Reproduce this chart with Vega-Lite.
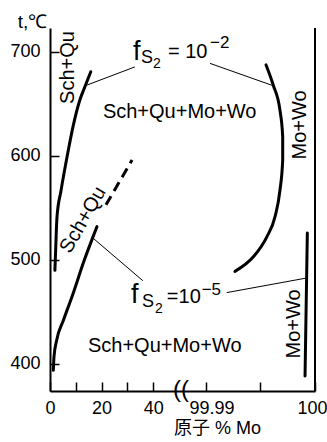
{
  "$schema": "https://vega.github.io/schema/vega-lite/v6.json",
  "width": 265,
  "height": 363,
  "autosize": {"type": "none"},
  "padding": {"left": 50, "top": 28, "right": 12, "bottom": 51},
  "background": "white",
  "config": {
    "view": {"stroke": null},
    "font": "Liberation Sans",
    "text": {"font": "Liberation Sans", "color": "black"},
    "axis": {"grid": false, "domainColor": "black", "tickColor": "black", "labelColor": "black", "titleColor": "black", "labelFont": "Liberation Sans", "titleFont": "Liberation Sans"}
  },
  "datasets": {
    "curves": [
      {"curve": "a", "i": 0, "x": 15.8, "t": 681},
      {"curve": "a", "i": 1, "x": 13.6, "t": 667},
      {"curve": "a", "i": 2, "x": 11.6, "t": 654},
      {"curve": "a", "i": 3, "x": 8.9, "t": 628},
      {"curve": "a", "i": 4, "x": 6.6, "t": 599},
      {"curve": "a", "i": 5, "x": 4.3, "t": 567},
      {"curve": "a", "i": 6, "x": 2.7, "t": 541},
      {"curve": "a", "i": 7, "x": 2.2, "t": 510},
      {"curve": "a", "i": 8, "x": 1.9, "t": 490},
      {"curve": "b", "i": 0, "x": 99.99553, "t": 687.5},
      {"curve": "b", "i": 1, "x": 99.99619, "t": 668},
      {"curve": "b", "i": 2, "x": 99.9968, "t": 644},
      {"curve": "b", "i": 3, "x": 99.99705, "t": 618.6},
      {"curve": "b", "i": 4, "x": 99.99705, "t": 596},
      {"curve": "b", "i": 5, "x": 99.9968, "t": 567},
      {"curve": "b", "i": 6, "x": 99.99635, "t": 541.6},
      {"curve": "b", "i": 7, "x": 99.99559, "t": 522},
      {"curve": "b", "i": 8, "x": 99.99437, "t": 503},
      {"curve": "b", "i": 9, "x": 99.99269, "t": 489},
      {"curve": "c", "i": 0, "x": 18.2, "t": 532},
      {"curve": "c", "i": 1, "x": 12.9, "t": 497},
      {"curve": "c", "i": 2, "x": 9.0, "t": 468},
      {"curve": "c", "i": 3, "x": 5.2, "t": 442},
      {"curve": "c", "i": 4, "x": 2.6, "t": 423},
      {"curve": "c", "i": 5, "x": 1.55, "t": 407},
      {"curve": "c", "i": 6, "x": 1.3, "t": 394},
      {"curve": "d", "i": 0, "x": 99.9993, "t": 526},
      {"curve": "d", "i": 1, "x": 99.99909, "t": 388.5}
    ],
    "dashed": [
      {"i": 0, "x": 21.7, "t": 553},
      {"i": 1, "x": 31.8, "t": 596}
    ],
    "leaders": [
      {"leader": "1", "i": 0, "x": 32.9, "t": 685.6},
      {"leader": "1", "i": 1, "x": 14.2, "t": 668},
      {"leader": "2", "i": 0, "x": 99.99041, "t": 689},
      {"leader": "2", "i": 1, "x": 99.99605, "t": 668},
      {"leader": "3", "i": 0, "x": 16.2, "t": 522},
      {"leader": "3", "i": 1, "x": 36.0, "t": 480},
      {"leader": "4", "i": 0, "x": 99.99194, "t": 468.6},
      {"leader": "4", "i": 1, "x": 99.99927, "t": 482.7}
    ],
    "frame": [
      {"x": 100, "t": 374, "t2": 723}
    ],
    "labels": [
      {"kind": "h", "x": 20.5, "t": 642, "text": "Sch+Qu+Mo+Wo"},
      {"kind": "h", "x": 14.7, "t": 417, "text": "Sch+Qu+Mo+Wo"},
      {"kind": "v", "x": 6.8, "t": 685, "text": "Sch+Qu"},
      {"kind": "v", "x": 99.99863, "t": 629.8, "text": "Mo+Wo"},
      {"kind": "v", "x": 99.99808, "t": 438.5, "text": "Mo+Wo"},
      {"kind": "s", "x": 12.8, "t": 538.5, "text": "Sch+Qu"}
    ],
    "formula": [
      {"part": "f", "x": 32.2, "t": 692.3, "text": "f"},
      {"part": "f", "x": 31.4, "t": 458.7, "text": "f"},
      {"part": "S", "x": 35.3, "t": 689.4, "text": "S"},
      {"part": "S", "x": 35.7, "t": 454.8, "text": "S"},
      {"part": "n", "x": 39.9, "t": 684.6, "text": "2"},
      {"part": "n", "x": 40.7, "t": 449, "text": "2"},
      {"part": "e", "x": 45.7, "t": 694.2, "text": "= 10"},
      {"part": "e", "x": 45.3, "t": 458.7, "text": "=10"},
      {"part": "p", "x": 99.99041, "t": 703.8, "text": "−2"},
      {"part": "p", "x": 92.8, "t": 466.3, "text": "−5"}
    ],
    "breakmark": [
      {"x": 53.8, "t": 375, "text": "(("}
    ]
  },
  "encoding": {
    "x": {
      "field": "x", "type": "quantitative",
      "scale": {"type": "linear", "domain": [0, 50, 99.99, 100], "range": [0, 129, 155.5, 265], "nice": false, "zero": false},
      "axis": {
        "values": [0, 10, 20, 30, 40, 99.99, 99.995, 100],
        "labelExpr": "datum.value < 1 ? '0' : datum.value < 15 ? '' : datum.value < 25 ? '20' : datum.value < 35 ? '' : datum.value < 45 ? '40' : datum.value < 99.992 ? '99.99' : datum.value < 99.999 ? '' : '100'",
        "labelOffset": {"condition": [{"test": "datum.value > 99.989 && datum.value < 99.992", "value": 6}, {"test": "datum.value > 99.999", "value": -3}], "value": 0},
        "tickSize": -9, "tickWidth": 1.5, "domainWidth": 2,
        "labelFontSize": 18, "labelPadding": 17, "labelFlush": false, "labelOverlap": false,
        "title": "原子 % Mo", "titleFont": "Liberation Sans, Noto Sans CJK JP", "titleFontSize": 18, "titleFontWeight": "normal",
        "titleX": 167, "titleY": 42, "titleAlign": "center", "titleBaseline": "alphabetic", "titleAnchor": null
      }
    },
    "y": {
      "field": "t", "type": "quantitative",
      "scale": {"domain": [374, 723], "nice": false, "zero": false},
      "axis": {
        "values": [400, 500, 600, 700],
        "tickSize": -9, "tickWidth": 1.5, "domainWidth": 2,
        "labelFontSize": 18, "labelPadding": 19, "labelFlush": false,
        "title": "t,℃", "titleAngle": 0, "titleFontSize": 19, "titleFontWeight": "normal",
        "titleX": -18, "titleY": -7, "titleAlign": "center", "titleBaseline": "middle"
      }
    }
  },
  "layer": [
    {
      "data": {"name": "curves"},
      "mark": {"type": "line", "color": "black", "strokeWidth": 3, "strokeCap": "round", "interpolate": "monotone"},
      "encoding": {"detail": {"field": "curve"}, "order": {"field": "i"}}
    },
    {
      "data": {"name": "dashed"},
      "mark": {"type": "line", "color": "black", "strokeWidth": 3, "strokeDash": [10, 6]},
      "encoding": {"order": {"field": "i"}}
    },
    {
      "data": {"name": "leaders"},
      "mark": {"type": "line", "color": "black", "strokeWidth": 1},
      "encoding": {"detail": {"field": "leader"}, "order": {"field": "i"}}
    },
    {
      "data": {"name": "frame"},
      "mark": {"type": "rule", "color": "black", "strokeWidth": 2},
      "encoding": {"y2": {"field": "t2"}}
    },
    {
      "data": {"name": "labels"},
      "transform": [{"filter": "datum.kind == 'h'"}],
      "mark": {"type": "text", "fontSize": 20, "align": "left", "baseline": "middle"},
      "encoding": {"text": {"field": "text"}}
    },
    {
      "data": {"name": "labels"},
      "transform": [{"filter": "datum.kind == 'v'"}],
      "mark": {"type": "text", "fontSize": 20, "align": "center", "baseline": "middle", "angle": 270},
      "encoding": {"text": {"field": "text"}}
    },
    {
      "data": {"name": "labels"},
      "transform": [{"filter": "datum.kind == 's'"}],
      "mark": {"type": "text", "fontSize": 20, "align": "center", "baseline": "middle", "angle": 300},
      "encoding": {"text": {"field": "text"}}
    },
    {
      "data": {"name": "formula"},
      "transform": [{"filter": "datum.part == 'f'"}],
      "mark": {"type": "text", "fontSize": 27, "align": "left", "baseline": "alphabetic"},
      "encoding": {"text": {"field": "text"}}
    },
    {
      "data": {"name": "formula"},
      "transform": [{"filter": "datum.part == 'S'"}],
      "mark": {"type": "text", "fontSize": 18, "align": "left", "baseline": "alphabetic"},
      "encoding": {"text": {"field": "text"}}
    },
    {
      "data": {"name": "formula"},
      "transform": [{"filter": "datum.part == 'n'"}],
      "mark": {"type": "text", "fontSize": 14, "align": "left", "baseline": "alphabetic"},
      "encoding": {"text": {"field": "text"}}
    },
    {
      "data": {"name": "formula"},
      "transform": [{"filter": "datum.part == 'e'"}],
      "mark": {"type": "text", "fontSize": 20, "align": "left", "baseline": "alphabetic"},
      "encoding": {"text": {"field": "text"}}
    },
    {
      "data": {"name": "formula"},
      "transform": [{"filter": "datum.part == 'p'"}],
      "mark": {"type": "text", "fontSize": 17, "align": "left", "baseline": "alphabetic"},
      "encoding": {"text": {"field": "text"}}
    },
    {
      "data": {"name": "breakmark"},
      "mark": {"type": "text", "fontSize": 24, "align": "center", "baseline": "middle"},
      "encoding": {"text": {"field": "text"}}
    }
  ]
}
